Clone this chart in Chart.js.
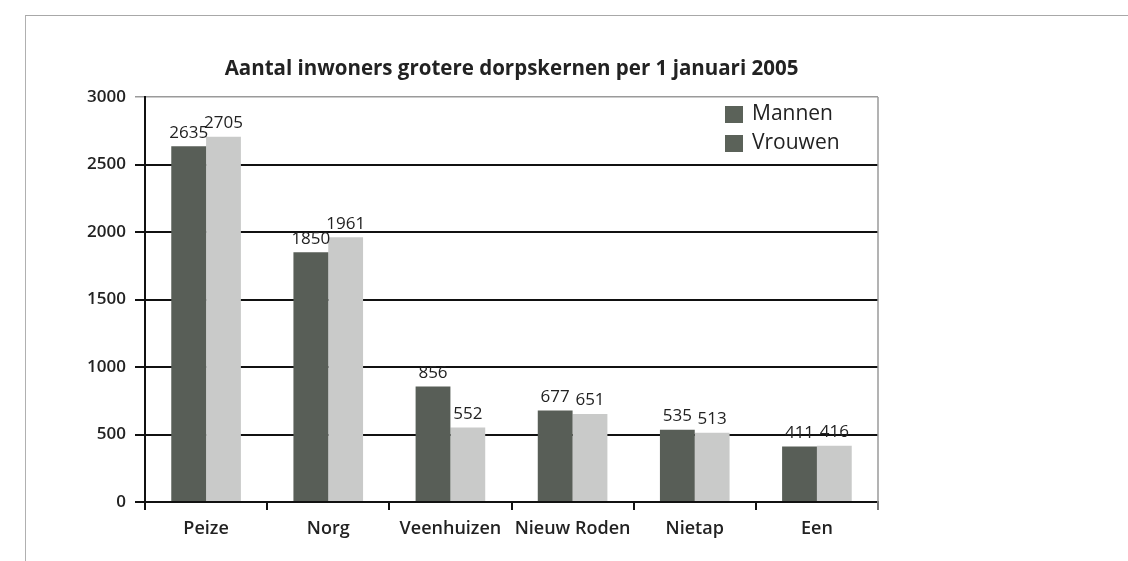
<!DOCTYPE html>
<html>
<head>
<meta charset="utf-8">
<script src="https://cdn.jsdelivr.net/npm/chart.js@4/dist/chart.umd.min.js"></script>
<style>
  html, body { margin: 0; padding: 0; background: #fff; }
  #wrap { position: relative; width: 1128px; height: 561px; overflow: hidden; }
  #frame { position: absolute; left: 25px; top: 15px; width: 1200px; height: 600px;
           border-top: 1px solid #a8a8a8; border-left: 1px solid #b0b0b0; }
  canvas { position: absolute; left: 0; top: 0; }
</style>
</head>
<body>
<div id="wrap">
  <div id="frame"></div>
  <canvas id="c" width="1128" height="561"></canvas>
</div>
<script>
const categories = ['Peize', 'Norg', 'Veenhuizen', 'Nieuw Roden', 'Nietap', 'Een'];
const mannen = [2635, 1850, 856, 677, 535, 411];
const vrouwen = [2705, 1961, 552, 651, 513, 416];
const yTicks = [0, 500, 1000, 1500, 2000, 2500, 3000];
const titleText = 'Aantal inwoners grotere dorpskernen per 1 januari 2005';

const DARK = '#585e57';
const LIGHT = '#c9cac9';
const LEGEND_BOX = '#5b6259';
const INK = '#222';

const valueLabels = {
  id: 'valueLabels',
  afterDatasetsDraw(chart) {
    const ctx = chart.ctx;
    ctx.save();
    ctx.font = '17px "Open Sans", sans-serif';
    ctx.fillStyle = INK;
    ctx.textAlign = 'center';
    ctx.textBaseline = 'bottom';
    chart.data.datasets.forEach((ds, i) => {
      const meta = chart.getDatasetMeta(i);
      meta.data.forEach((el, j) => {
        ctx.fillText(String(ds.data[j]), el.x, el.y - 5);
      });
    });
    ctx.restore();
  }
};

const frameAndLegend = {
  id: 'frameAndLegend',
  afterDraw(chart) {
    const ctx = chart.ctx;
    const a = chart.chartArea;
    ctx.save();
    ctx.strokeStyle = '#9a9a9a';
    ctx.lineWidth = 1.5;
    ctx.beginPath();
    ctx.moveTo(a.right, a.top);
    ctx.lineTo(a.right, a.bottom + 8);
    ctx.stroke();
    ctx.font = '21px "Open Sans", sans-serif';
    ctx.textBaseline = 'middle';
    ctx.textAlign = 'left';
    chart.data.datasets.forEach((ds, i) => {
      const y = a.top + 17 + i * 29;
      const x = a.right - 153;
      ctx.fillStyle = LEGEND_BOX;
      ctx.fillRect(x, y - 8, 18, 17);
      ctx.fillStyle = INK;
      ctx.fillText(ds.label, x + 27, y);
    });
    ctx.restore();
  }
};

new Chart(document.getElementById('c'), {
  type: 'bar',
  data: {
    labels: categories,
    datasets: [
      { label: 'Mannen', data: mannen, backgroundColor: DARK, borderWidth: 0,
        categoryPercentage: 0.57, barPercentage: 1.0 },
      { label: 'Vrouwen', data: vrouwen, backgroundColor: LIGHT, borderWidth: 0,
        categoryPercentage: 0.57, barPercentage: 1.0 }
    ]
  },
  options: {
    responsive: false,
    animation: false,
    layout: { padding: { left: 0, right: 250, top: 0, bottom: 0 } },
    plugins: {
      legend: { display: false },
      tooltip: { enabled: false },
      title: {
        display: true,
        text: titleText,
        fullSize: false,
        color: INK,
        font: { family: '"Open Sans", sans-serif', size: 20.5, weight: 'bold', lineHeight: 1.2 },
        padding: { top: 57, bottom: 15.4 }
      }
    },
    scales: {
      x: {
        offset: true,
        grid: { offset: true, drawOnChartArea: false, drawTicks: true, tickLength: 8,
                color: '#111', lineWidth: 2 },
        border: { display: true, color: '#111', width: 2 },
        ticks: { color: INK, padding: 8, maxRotation: 0,
                 font: { family: '"Open Sans", sans-serif', size: 18, weight: '600' } },
        afterFit(scale) { scale.height = 59; }
      },
      y: {
        min: 0, max: 3000,
        afterBuildTicks(scale) { scale.ticks = yTicks.map(v => ({ value: v })); },
        grid: {
          drawTicks: true, tickLength: 10,
          color: ctx => (ctx.tick && ctx.tick.value === 3000) ? '#9a9a9a' : '#111',
          lineWidth: ctx => (ctx.tick && ctx.tick.value === 3000) ? 1.5 : 2
        },
        border: { display: true, color: '#111', width: 2 },
        ticks: { color: INK, padding: 9,
                 callback: v => String(v),
                 font: { family: '"Open Sans", sans-serif', size: 17, weight: '600' } },
        afterFit(scale) { scale.width = 145; }
      }
    }
  },
  plugins: [valueLabels, frameAndLegend]
});
</script>
</body>
</html>
